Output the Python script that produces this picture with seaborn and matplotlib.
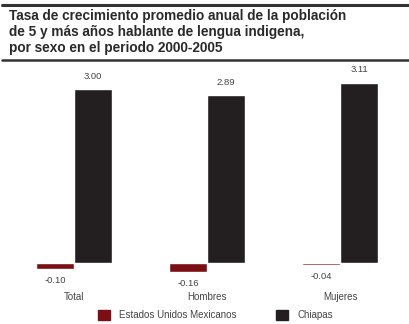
import matplotlib
matplotlib.use("Agg")
import matplotlib.pyplot as plt
import matplotlib.transforms as mtransforms
import seaborn as sns
import pandas as pd

categories = ["Total", "Hombres", "Mujeres"]
series_names = ["Estados Unidos Mexicanos", "Chiapas"]
eum_values = [-0.10, -0.16, -0.04]
chiapas_values = [3.00, 2.89, 3.11]

colors = {"Estados Unidos Mexicanos": "#7b0f14", "Chiapas": "#231f20"}

df = pd.DataFrame({
    "categoria": categories * 2,
    "serie": [series_names[0]] * 3 + [series_names[1]] * 3,
    "valor": eum_values + chiapas_values,
})

sns.set_theme(style="white")
plt.rcParams["font.family"] = ["Liberation Sans", "DejaVu Sans"]

W, H = 409, 324
fig = plt.figure(figsize=(W / 100, H / 100), dpi=100)

def px_rect(x0, y0, x1, y1):
    return [x0 / W, 1 - y1 / H, (x1 - x0) / W, (y1 - y0) / H]

ax = fig.add_axes(px_rect(0, 62, W, 275))
sns.barplot(data=df, x="categoria", y="valor", hue="serie", order=categories,
            hue_order=series_names, palette=colors, width=0.57,
            saturation=1, ax=ax, legend=False)

# pixel mapping: group centres at 74, 207, 340; baseline at 263, 58 px per unit
ax.set_xlim(-74 / 133, (W - 74) / 133)
ax.set_ylim(-(275 - 263) / 58, (263 - 62) / 58)
ax.axis("off")

# value labels
for cont, vals in zip(ax.containers, [eum_values, chiapas_values]):
    for patch, v in zip(cont.patches, vals):
        cx = patch.get_x() + patch.get_width() / 2
        if v >= 0:
            ax.annotate(f"{v:.2f}", (cx, v), xytext=(0, 6), textcoords="offset points",
                        ha="center", va="bottom", fontsize=6.8, color="#444444")
        else:
            ax.annotate(f"{v:.2f}", (cx, v), xytext=(0, -5), textcoords="offset points",
                        ha="center", va="top", fontsize=6.8, color="#444444",
                        annotation_clip=False)

# category labels below the plot
trans = mtransforms.blended_transform_factory(ax.transData, fig.transFigure)
for i, c in enumerate(categories):
    ax.text(i, 1 - 297 / H, c, transform=trans, ha="center", va="center",
            fontsize=7, color="#444444", clip_on=False)

# title block with rules above and below
fig.add_artist(plt.Line2D([2 / W, 1], [1 - 5 / H, 1 - 5 / H], color="#333333", lw=2.2))
fig.add_artist(plt.Line2D([2 / W, 1], [1 - 60 / H, 1 - 60 / H], color="#333333", lw=1.8))
title = ("Tasa de crecimiento promedio anual de la población\n"
         "de 5 y más años hablante de lengua indigena,\n"
         "por sexo en el periodo 2000-2005")
fig.text(9 / W, 1 - 32 / H, title, ha="left", va="center", fontsize=9.8,
         fontweight="bold", color="#2a2a2a", linespacing=1.22)

# legend
handles = [plt.Rectangle((0, 0), 1, 1, color=colors[s]) for s in series_names]
fig.legend(handles, series_names, loc="center", bbox_to_anchor=(215.5 / W, 1 - 315 / H),
           ncol=2, frameon=False, fontsize=7, handlelength=1.25, handleheight=1.25,
           handletextpad=1.0, columnspacing=4.0, labelcolor="#444444")

fig.savefig("out.png", dpi=100, facecolor="white")
